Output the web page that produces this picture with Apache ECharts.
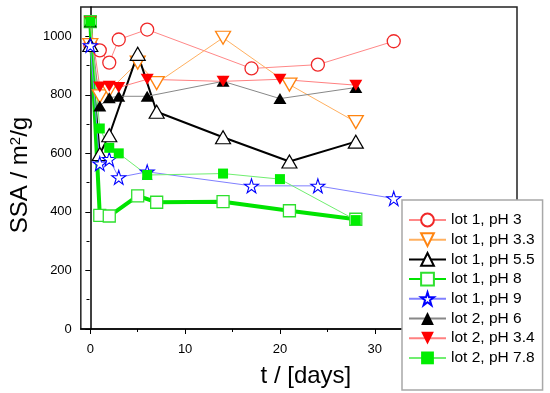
<!DOCTYPE html>
<html><head><meta charset="utf-8">
<script src="https://cdn.jsdelivr.net/npm/echarts@6/dist/echarts.min.js"></script>
<style>html,body{margin:0;padding:0;background:#fff}#c{width:550px;height:393px}</style>
</head><body><div id="c"></div>
<script>
// ---- data (t in days, SSA in m2/g) ----
const seriesNames = ['lot 1, pH 3','lot 1, pH 3.3','lot 1, pH 5.5','lot 1, pH 8','lot 1, pH 9','lot 2, pH 6','lot 2, pH 3.4','lot 2, pH 7.8'];
const lot1_pH3_t   = [0, 1, 2, 3, 6, 17, 24, 32];
const lot1_pH3_v   = [970, 952, 910, 989, 1023, 890, 903, 983];
const lot1_pH33_t  = [0, 1, 2, 5, 7, 14, 21, 28];
const lot1_pH33_v  = [970, 795, 815, 910, 840, 995, 835, 707];
const lot1_pH55_t  = [0, 1, 2, 5, 7, 14, 21, 28];
const lot1_pH55_v  = [970, 598, 662, 940, 742, 655, 572, 640];
const lot1_pH8_t   = [0, 1, 2, 5, 7, 14, 21, 28];
const lot1_pH8_v   = [1050, 388, 386, 455, 433, 435, 404, 375];
const lot1_pH9_t   = [0, 1, 2, 3, 6, 17, 24, 32];
const lot1_pH9_v   = [969, 565, 580, 518, 537, 489, 489, 446];
const lot2_pH6_t   = [0, 1, 2, 3, 6, 14, 20, 28];
const lot2_pH6_v   = [1050, 762, 790, 795, 795, 846, 787, 825];
const lot2_pH34_t  = [0, 1, 2, 3, 6, 14, 20, 28];
const lot2_pH34_v  = [1050, 827, 829, 825, 853, 846, 853, 833];
const lot2_pH78_t  = [0, 1, 2, 3, 6, 14, 20, 28];
const lot2_pH78_v  = [1050, 685, 619, 600, 526, 531, 512, 372];
const xTickValues  = [0, 10, 20, 30, 40];
const xMinorValues = [5, 15, 25, 35];
const yTickValues  = [0, 200, 400, 600, 800, 1000];
const yMinorValues = [100, 300, 500, 700, 900];

const FONT = 'Liberation Sans, Arial, sans-serif';
const DOWN_TRI = 'path://M0,0L2,0L1,1.732Z';
const STAR = 'path://M50,0L61.2,34.5L97.6,34.5L68.2,55.9L79.4,90.5L50,69.1L20.6,90.5L31.8,55.9L2.4,34.5L38.8,34.5Z';

function pts(t, v){ return t.map((x,i)=>[x, v[i]]); }

const styles = [
  {t:lot1_pH3_t,  v:lot1_pH3_v,  symbol:'circle', size:13, fill:'#fff', border:'#f02828', bw:1.3, line:'#ff8888', lw:1},
  {t:lot1_pH33_t, v:lot1_pH33_v, symbol:DOWN_TRI, size:[15,13], fill:'#fff', border:'#ff8410', bw:1.3, line:'#ffb060', lw:1},
  {t:lot1_pH55_t, v:lot1_pH55_v, symbol:'triangle', size:[15,13], fill:'#fff', border:'#000', bw:1.2, line:'#000', lw:2},
  {t:lot1_pH8_t,  v:lot1_pH8_v,  symbol:'rect', size:12, fill:'#fff', border:'#2ee02e', bw:1.3, line:'#00e400', lw:4},
  {t:lot1_pH9_t,  v:lot1_pH9_v,  symbol:STAR, size:14, fill:'#fff', border:'#0000ff', bw:1.1, line:'#8080ff', lw:1},
  {t:lot2_pH6_t,  v:lot2_pH6_v,  symbol:'triangle', size:[13,11], fill:'#000', border:'#000', bw:0, line:'#888', lw:1},
  {t:lot2_pH34_t, v:lot2_pH34_v, symbol:DOWN_TRI, size:[13,11], fill:'#ff0000', border:'#ff0000', bw:0, line:'#ff8080', lw:1},
  {t:lot2_pH78_t, v:lot2_pH78_v, symbol:'rect', size:10, fill:'#00ee00', border:'#00ee00', bw:0, line:'#70ee70', lw:1}
];

const series = styles.map((s,i)=>({
  name: seriesNames[i], type:'line', xAxisIndex:0, yAxisIndex:0,
  data: pts(s.t, s.v),
  symbol: s.symbol, symbolSize: s.size, showAllSymbol:true,
  itemStyle:{color:s.fill, borderColor:s.border, borderWidth:s.bw},
  lineStyle:{color:s.line, width:s.lw},
  emphasis:{disabled:true}, silent:true
}));

const gridBox = {left:80, top:7, right:33, bottom:64};
const chart = echarts.init(document.getElementById('c'), null, {renderer:'canvas'});
chart.setOption({
  animation:false,
  backgroundColor:'#fff',
  grid:[
    Object.assign({show:true, borderColor:'#222', borderWidth:1.5, backgroundColor:'transparent'}, gridBox),
    Object.assign({show:false}, gridBox)
  ],
  legend:{
    orient:'vertical', left:402, top:200, height:160,
    padding:[12,8,24,6], itemWidth:37, itemHeight:16, itemGap:3.7,
    backgroundColor:'#fff', borderColor:'#a8a8a8', borderWidth:1.5,
    textStyle:{fontSize:15.5, lineHeight:16, fontFamily:FONT, color:'#000'},
    data: seriesNames
  },
  xAxis:[{
    type:'value', min:-1, max:45, gridIndex:0,
    name:'t / [days]', nameLocation:'middle', nameGap:35,
    nameTextStyle:{fontSize:24, fontFamily:FONT, color:'#000', padding:[0,0,0,14]},
    axisLine:{show:true, lineStyle:{color:'#000', width:1.5}},
    axisTick:{show:true, inside:false, length:5, customValues:xTickValues, lineStyle:{color:'#000', width:1}},
    axisLabel:{customValues:xTickValues, margin:14, fontSize:13, fontFamily:FONT, color:'#000'},
    splitLine:{show:false}
  },{
    type:'value', min:-1, max:45, gridIndex:1, position:'bottom',
    axisLine:{show:false},
    axisTick:{show:true, length:3, customValues:xMinorValues, lineStyle:{color:'#000', width:1}},
    axisLabel:{show:false}, splitLine:{show:false}
  }],
  yAxis:[{
    type:'value', min:0, max:1100, gridIndex:0,
    name:'SSA / m{sup|2}/g', nameLocation:'middle', nameGap:42,
    nameTextStyle:{fontSize:24, fontFamily:FONT, color:'#000', padding:[0,14,0,0],
      rich:{sup:{fontSize:15, fontFamily:FONT, color:'#000', verticalAlign:'top', lineHeight:15}}},
    axisLine:{show:true, lineStyle:{color:'#000', width:1.5}},
    axisTick:{show:true, length:5, customValues:yTickValues, lineStyle:{color:'#000', width:1}},
    axisLabel:{customValues:yTickValues, margin:9, fontSize:13, fontFamily:FONT, color:'#000',
      formatter:function(v){ return String(v); }},
    splitLine:{show:false}
  },{
    type:'value', min:0, max:1100, gridIndex:1, position:'left',
    axisLine:{show:false},
    axisTick:{show:true, length:3, customValues:yMinorValues, lineStyle:{color:'#000', width:1}},
    axisLabel:{show:false}, splitLine:{show:false}
  }],
  series: series
});
</script></body></html>
